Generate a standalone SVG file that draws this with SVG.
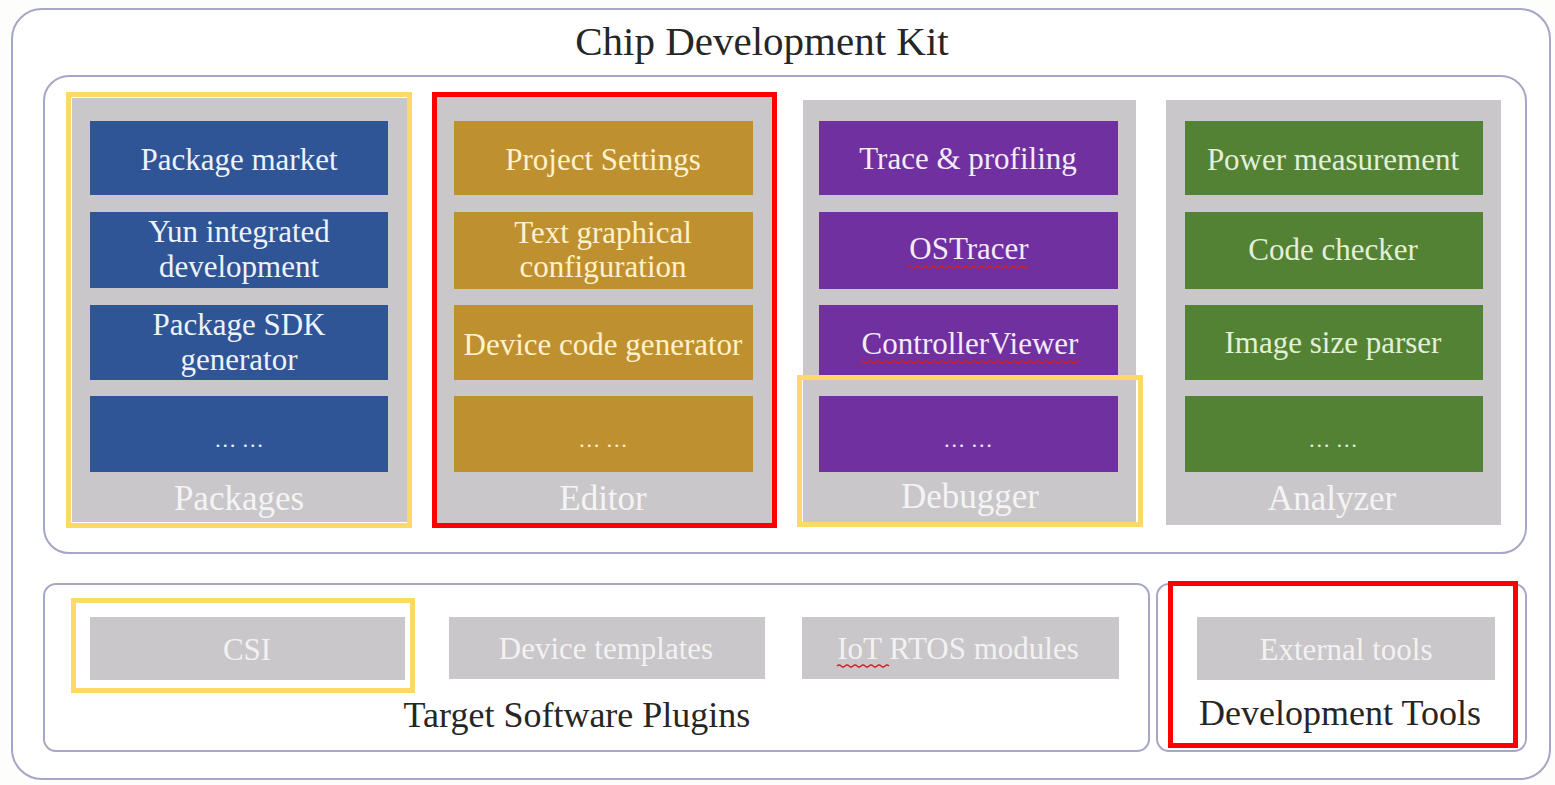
<svg xmlns="http://www.w3.org/2000/svg" width="1555" height="785" viewBox="0 0 1555 785">
  <style>
    text { font-family: "Liberation Serif", "Times New Roman", serif; text-anchor: middle; }
    .frame { fill: #ffffff; stroke: #a6a6c6; stroke-width: 2; }
    .col { fill: #c9c7c9; }
    .gbox { fill: #c9c7c9; }
    .blue { fill: #2f5597; }
    .gold { fill: #bf9030; }
    .purple { fill: #7030a0; }
    .green { fill: #548235; }
    .t-blue { fill: #eef2fa; font-size: 31px; }
    .t-gold { fill: #fff2cc; font-size: 31px; }
    .t-purple { fill: #f4ecf8; font-size: 31px; }
    .t-green { fill: #e2f0d9; font-size: 31px; }
    .dots { font-size: 22px; }
    .collabel { fill: #f4f4f4; font-size: 35px; }
    .glabel { fill: #f2f2f2; font-size: 31px; }
    .title { fill: #262626; font-size: 41px; }
    .sect { fill: #262626; font-size: 36px; }
    .hl-yellow { fill: none; stroke: #ffd966; stroke-width: 5; }
    .hl-red { fill: none; stroke: #ff0000; stroke-width: 5; }
    .squiggle { fill: none; stroke: #d02020; stroke-width: 1.2; }
  </style>

  <rect width="1555" height="785" fill="#fdfdfb"/>

  <!-- outer container -->
  <g id="chip-development-kit">
    <rect class="frame" x="12" y="9" width="1538" height="770" rx="30" ry="30"/>
    <text class="title" x="762" y="55">Chip Development Kit</text>
  </g>

  <!-- upper panel holding the four tool columns -->
  <g id="tools-panel">
    <rect class="frame" x="44" y="76" width="1482" height="477" rx="25" ry="25"/>
  </g>

  <!-- Packages column -->
  <g id="packages">
    <rect class="col" x="72" y="98" width="335" height="424"/>
    <rect class="blue" x="90" y="121" width="298" height="74"/>
    <text class="t-blue" x="239" y="170">Package market</text>
    <rect class="blue" x="90" y="212" width="298" height="76"/>
    <text class="t-blue" x="239" y="242">Yun integrated</text>
    <text class="t-blue" x="239" y="277">development</text>
    <rect class="blue" x="90" y="305" width="298" height="75"/>
    <text class="t-blue" x="239" y="335">Package SDK</text>
    <text class="t-blue" x="239" y="370">generator</text>
    <rect class="blue" x="90" y="396" width="298" height="76"/>
    <text class="t-blue dots" x="239" y="447">… …</text>
    <text class="collabel" x="239" y="510">Packages</text>
    <rect class="hl-yellow" x="68.5" y="94.5" width="341" height="431"/>
  </g>

  <!-- Editor column -->
  <g id="editor">
    <rect class="col" x="437" y="97" width="336" height="426"/>
    <rect class="gold" x="454" y="121" width="299" height="74"/>
    <text class="t-gold" x="603" y="170">Project Settings</text>
    <rect class="gold" x="454" y="212" width="299" height="77"/>
    <text class="t-gold" x="603" y="243">Text graphical</text>
    <text class="t-gold" x="603" y="277">configuration</text>
    <rect class="gold" x="454" y="305" width="299" height="75"/>
    <text class="t-gold" x="603" y="355">Device code generator</text>
    <rect class="gold" x="454" y="396" width="299" height="76"/>
    <text class="t-gold dots" x="603" y="447">… …</text>
    <text class="collabel" x="603" y="510">Editor</text>
    <rect class="hl-red" x="434.5" y="94.5" width="340" height="431"/>
  </g>

  <!-- Debugger column -->
  <g id="debugger">
    <rect class="col" x="803" y="100" width="333" height="422"/>
    <rect class="purple" x="819" y="121" width="299" height="74"/>
    <text class="t-purple" x="968" y="169">Trace &amp; profiling</text>
    <rect class="purple" x="819" y="212" width="299" height="77"/>
    <text class="t-purple" x="969" y="259">OSTracer</text>
    <path class="squiggle" d="M908 267 q2 -2 4 0 t4 0 t4 0 t4 0 t4 0 t4 0 t4 0 t4 0 t4 0 t4 0 t4 0 t4 0 t4 0 t4 0 t4 0 t4 0 t4 0 t4 0 t4 0 t4 0 t4 0 t4 0 t4 0 t4 0 t4 0 t4 0 t4 0 t4 0 t4 0 t4 0"/>
    <rect class="purple" x="819" y="305" width="299" height="75"/>
    <text class="t-purple" x="970" y="354">ControllerViewer</text>
    <path class="squiggle" d="M860 362 q2 -2 4 0 t4 0 t4 0 t4 0 t4 0 t4 0 t4 0 t4 0 t4 0 t4 0 t4 0 t4 0 t4 0 t4 0 t4 0 t4 0 t4 0 t4 0 t4 0 t4 0 t4 0 t4 0 t4 0 t4 0 t4 0 t4 0 t4 0 t4 0 t4 0 t4 0 t4 0 t4 0 t4 0 t4 0 t4 0 t4 0 t4 0 t4 0 t4 0 t4 0 t4 0 t4 0 t4 0 t4 0 t4 0 t4 0 t4 0 t4 0 t4 0 t4 0 t4 0 t4 0 t4 0 t4 0 t4 0"/>
    <rect class="purple" x="819" y="396" width="299" height="76"/>
    <text class="t-purple dots" x="968" y="447">… …</text>
    <text class="collabel" x="970" y="508">Debugger</text>
    <rect class="hl-yellow" x="799.5" y="377.5" width="341" height="147"/>
  </g>

  <!-- Analyzer column -->
  <g id="analyzer">
    <rect class="col" x="1166" y="100" width="335" height="425"/>
    <rect class="green" x="1185" y="121" width="298" height="74"/>
    <text class="t-green" x="1333" y="170">Power measurement</text>
    <rect class="green" x="1185" y="212" width="298" height="77"/>
    <text class="t-green" x="1333" y="260">Code checker</text>
    <rect class="green" x="1185" y="305" width="298" height="75"/>
    <text class="t-green" x="1333" y="353">Image size parser</text>
    <rect class="green" x="1185" y="396" width="298" height="76"/>
    <text class="t-green dots" x="1333" y="447">… …</text>
    <text class="collabel" x="1332" y="510">Analyzer</text>
  </g>

  <!-- Target Software Plugins panel -->
  <g id="target-software-plugins">
    <rect class="frame" x="44" y="584" width="1105" height="167" rx="12" ry="12"/>
    <text class="sect" x="577" y="727">Target Software Plugins</text>
  </g>

  <g id="csi">
    <rect class="gbox" x="90" y="617" width="315" height="63"/>
    <text class="glabel" x="247" y="660">CSI</text>
    <rect class="hl-yellow" x="73.5" y="600.5" width="339" height="90"/>
  </g>

  <g id="device-templates">
    <rect class="gbox" x="449" y="617" width="316" height="62"/>
    <text class="glabel" x="606" y="659">Device templates</text>
  </g>

  <g id="iot-rtos-modules">
    <rect class="gbox" x="802" y="617" width="317" height="62"/>
    <text class="glabel" x="958" y="659">IoT RTOS modules</text>
    <path class="squiggle" d="M837 666 q2 -2 4 0 t4 0 t4 0 t4 0 t4 0 t4 0 t4 0 t4 0 t4 0 t4 0 t4 0 t4 0 t4 0"/>
  </g>

  <!-- Development Tools panel -->
  <g id="development-tools">
    <rect class="frame" x="1157" y="584" width="369" height="167" rx="12" ry="12"/>
    <rect class="gbox" x="1197" y="617" width="298" height="63"/>
    <text class="glabel" x="1346" y="660">External tools</text>
    <text class="sect" x="1340" y="725">Development Tools</text>
    <rect class="hl-red" x="1170.5" y="583.5" width="345" height="162"/>
  </g>
</svg>
